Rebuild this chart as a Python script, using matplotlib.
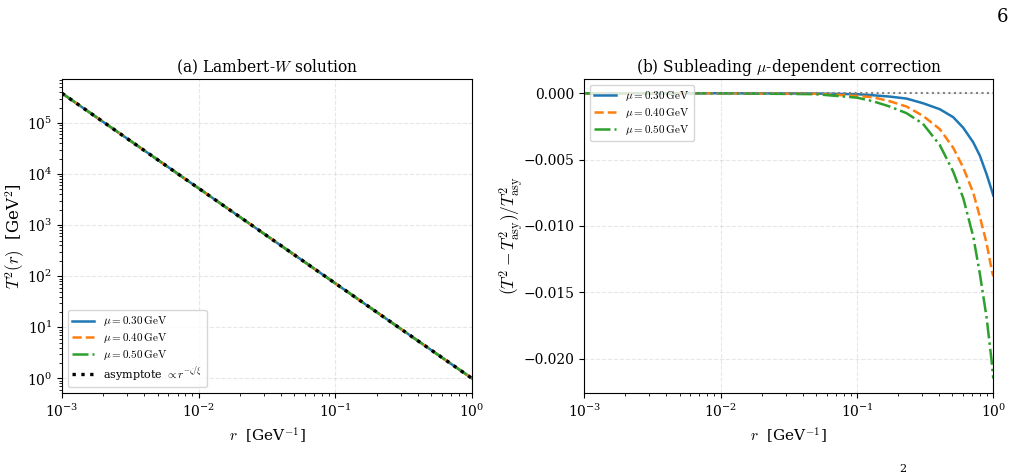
import matplotlib
matplotlib.use('Agg')
import matplotlib.pyplot as plt

plt.rcParams['font.family'] = 'DejaVu Serif'
plt.rcParams['mathtext.fontset'] = 'cm'

# panel (a): T^2(r)
r_a = [1e-3, 1e-2, 1e-1, 1.0]
T2_asy = [3.8e5, 5.25e3, 72.4, 1.0]
T2_mu = {'0.30': T2_asy, '0.40': T2_asy, '0.50': T2_asy}

# panel (b): relative correction (T^2 - T^2_asy)/T^2_asy
r_b = [1e-3, 1e-2, 0.05, 0.1, 0.131, 0.174, 0.231, 0.305, 0.405, 0.508,
       0.602, 0.713, 0.797, 0.893, 0.973, 1.0]
corr_030 = [0, 0, -0.00002, -0.00007, -0.00015, -0.00025, -0.0004, -0.00075,
            -0.0012, -0.0018, -0.0026, -0.0037, -0.0047, -0.0061, -0.0073, -0.0077]
corr_040 = [0, 0, -0.00004, -0.0002, -0.0003, -0.0006, -0.0010, -0.0017,
            -0.0027, -0.0041, -0.0056, -0.0075, -0.0093, -0.0113, -0.0133, -0.0138]
corr_050 = [0, 0, -0.00007, -0.00033, -0.0006, -0.0010, -0.0015, -0.0023,
            -0.0039, -0.0059, -0.0079, -0.0108, -0.0136, -0.0169, -0.0202, -0.0215]

mus = ['0.30', '0.40', '0.50']
colors = ['#1f77b4', '#ff7f0e', '#2ca02c']
styles = ['-', '--', '-.']

fig = plt.figure(figsize=(10.2, 4.72), dpi=100)
ax1 = fig.add_axes([0.0608, 0.168, 0.402, 0.6646])
ax2 = fig.add_axes([0.5728, 0.168, 0.401, 0.6646])

# (a)
for mu, c, ls in zip(mus, colors, styles):
    ax1.plot(r_a, T2_mu[mu], color=c, ls=ls, lw=1.8, label=rf'$\mu={mu}\,\mathrm{{GeV}}$')
ax1.plot(r_a, T2_asy, color='k', ls=':', lw=2.4, label=r'asymptote $\propto r^{-\zeta/\xi}$')
ax1.set_xscale('log')
ax1.set_yscale('log')
ax1.set_xlim(1e-3, 1)
ax1.set_title(r'(a) Lambert-$W$ solution', fontsize=11.2, pad=5)
ax1.set_xlabel(r'$r$  [GeV$^{-1}$]', fontsize=11)
ax1.set_ylabel(r'$T^2(r)$  [GeV$^2$]', fontsize=12, labelpad=0)
ax1.grid(True, ls='--', alpha=0.3)
ax1.legend(loc='lower left', fontsize=8, labelspacing=0.25)

# (b)
for mu, c, ls, corr in zip(mus, colors, styles, [corr_030, corr_040, corr_050]):
    ax2.plot(r_b, corr, color=c, ls=ls, lw=1.8, label=rf'$\mu={mu}\,\mathrm{{GeV}}$')
ax2.axhline(0, color='gray', ls=':', lw=1.5)
ax2.set_xscale('log')
ax2.set_xlim(1e-3, 1)
ax2.set_title(r'(b) Subleading $\mu$-dependent correction', fontsize=11.2, pad=5)
ax2.set_xlabel(r'$r$  [GeV$^{-1}$]', fontsize=11)
ax2.set_ylabel(r'$(T^2 - T^2_{\rm asy})/T^2_{\rm asy}$', fontsize=12.5, labelpad=-2)
ax2.grid(True, ls='--', alpha=0.3)
ax2.legend(loc='upper left', fontsize=8, labelspacing=0.25)

for ax in (ax1, ax2):
    ax.tick_params(labelsize=10)

# page artefacts
fig.text(0.988, 0.965, '6', fontsize=13, ha='right', va='center')
fig.text(0.885, 0.016, '2', fontsize=8, ha='center', va='top')

fig.savefig('out.png', dpi=100)
